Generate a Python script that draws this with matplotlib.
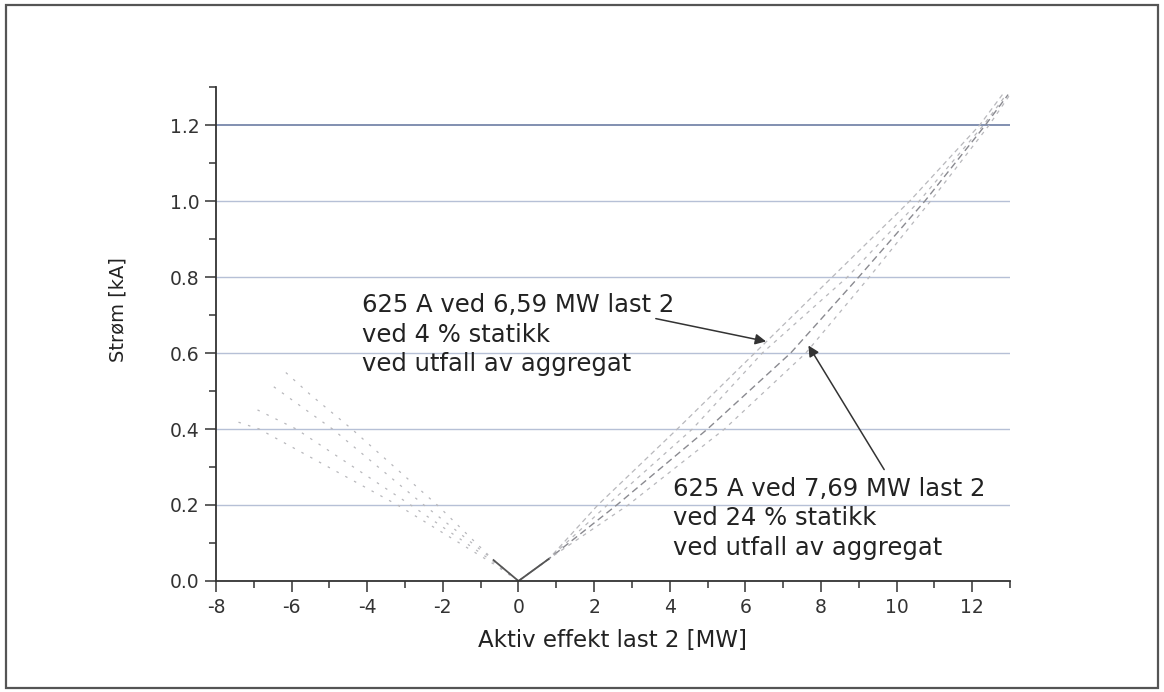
import numpy as np
import matplotlib
matplotlib.use("Agg")
import matplotlib.pyplot as plt
from matplotlib.patches import Rectangle
from matplotlib.ticker import MultipleLocator

plt.rcParams['font.family'] = ['DejaVu Sans']
plt.rcParams['axes.unicode_minus'] = False

# current levels (kA) shared by the positive-power curves
i_levels = [0.0, 0.058, 0.2, 0.4, 0.6, 0.8, 1.0, 1.2, 1.28]
# active power (MW) where each curve reaches those levels
p_curve_a = [0.0, 0.8, 2.1, 4.2, 6.25, 8.3, 10.35, 12.2, 12.8]
p_curve_b = [0.0, 0.8, 2.35, 4.6, 6.45, 8.7, 10.6, 12.3, 12.9]
p_curve_c = [0.0, 0.8, 2.6, 5.0, 7.2, 9.0, 10.75, 12.35, 12.95]
p_curve_d = [0.0, 0.8, 2.9, 5.45, 7.6, 9.28, 10.9, 12.45, 13.0]

# negative power (back-feed) branches
neg_p_1 = [0.0, -0.66, -2.15, -4.41, -5.5, -6.28]
neg_i_1 = [0.0, 0.055, 0.2, 0.4, 0.49, 0.56]
neg_p_2 = [0.0, -0.66, -2.5, -4.92, -6.54]
neg_i_2 = [0.0, 0.055, 0.2, 0.4, 0.516]
neg_p_3 = [0.0, -0.66, -2.85, -5.88, -7.0]
neg_i_3 = [0.0, 0.05, 0.2, 0.4, 0.455]
neg_p_4 = [0.0, -0.66, -3.2, -6.86, -7.47]
neg_i_4 = [0.0, 0.045, 0.2, 0.4, 0.42]

# the short solid part near the origin
v_p = [-0.66, 0.0, 0.8]
v_i = [0.055, 0.0, 0.058]

note_1 = "625 A ved 6,59 MW last 2\nved 4 % statikk\nved utfall av aggregat"
note_2 = "625 A ved 7,69 MW last 2\nved 24 % statikk\nved utfall av aggregat"
arrow_1 = ((3.56, 0.692), (6.62, 0.629))   # (start, tip)
arrow_2 = ((9.71, 0.287), (7.63, 0.626))

fig = plt.figure(figsize=(11.64, 6.92), dpi=100)
ax = fig.add_axes([216/1164, 1-581/692, 794/1164, 494/692])

ax.set_xlim(-8, 13)
ax.set_ylim(0, 1.3)

# grid
ax.set_yticks(np.arange(0, 1.21, 0.2))
ax.set_xticks(np.arange(-8, 13, 2))
ax.yaxis.set_minor_locator(MultipleLocator(0.1))
ax.xaxis.set_minor_locator(MultipleLocator(1))
ax.grid(axis='y', color='#b6c0d6', lw=1.0)
ax.yaxis.get_gridlines()[-1].set_color('#7787aa')
ax.yaxis.get_gridlines()[-1].set_linewidth(1.3)
ax.set_axisbelow(True)

faint = dict(color='#b8b8bc', lw=0.9)
ax.plot(p_curve_a, i_levels, ls=(0, (4, 3)), **faint)
ax.plot(p_curve_b, i_levels, ls=(0, (3, 4)), **faint)
ax.plot(p_curve_c, i_levels, ls=(0, (5, 3)), color='#8a8a90', lw=1.0)
ax.plot(p_curve_d, i_levels, ls=(0, (3, 4)), **faint)

for p, i in [(neg_p_1, neg_i_1), (neg_p_2, neg_i_2), (neg_p_3, neg_i_3), (neg_p_4, neg_i_4)]:
    ax.plot(p, i, ls=(0, (2, 6)), **faint)

ax.plot(v_p, v_i, color='#555555', lw=1.3)

# annotations
ax.text(-4.15, 0.758, note_1, fontsize=17.5, color='#222222', va='top', ha='left', linespacing=1.3)
ax.text(4.10, 0.275, note_2, fontsize=17.5, color='#222222', va='top', ha='left', linespacing=1.3)
for start, tip in [arrow_1, arrow_2]:
    ax.annotate('', xy=tip, xytext=start,
                arrowprops=dict(arrowstyle='-|>', color='#333333', lw=1.1, mutation_scale=16))

# spines and ticks
for s in ['top', 'right']:
    ax.spines[s].set_visible(False)
for s in ['left', 'bottom']:
    ax.spines[s].set_color('#333333')
    ax.spines[s].set_linewidth(1.3)
ax.tick_params(which='major', direction='out', length=8, width=1.1, color='#333333',
               labelsize=13.5, labelcolor='#333333')
ax.tick_params(which='minor', direction='out', length=5, width=1.1, color='#333333')
ax.tick_params(axis='y', pad=4)
ax.tick_params(axis='x', pad=4)
ax.yaxis.set_major_formatter(matplotlib.ticker.FormatStrFormatter('%.1f'))

ax.set_xlabel('Aktiv effekt last 2 [MW]', fontsize=16.5, color='#222222')
ax.xaxis.set_label_coords(0.5, -0.121)
ax.xaxis.label.set_va('center')
ax.set_ylabel('Strøm [kA]', fontsize=14, color='#222222')
ax.yaxis.set_label_coords(-0.1234, 0.5486)
ax.yaxis.label.set_va('center')

# outer frame of the figure
fig.patches.append(Rectangle((6/1164, 1-688/692), 1152/1164, 683/692, transform=fig.transFigure,
                             fill=False, ec='#555555', lw=1.6))

plt.savefig('out.png', dpi=100)
